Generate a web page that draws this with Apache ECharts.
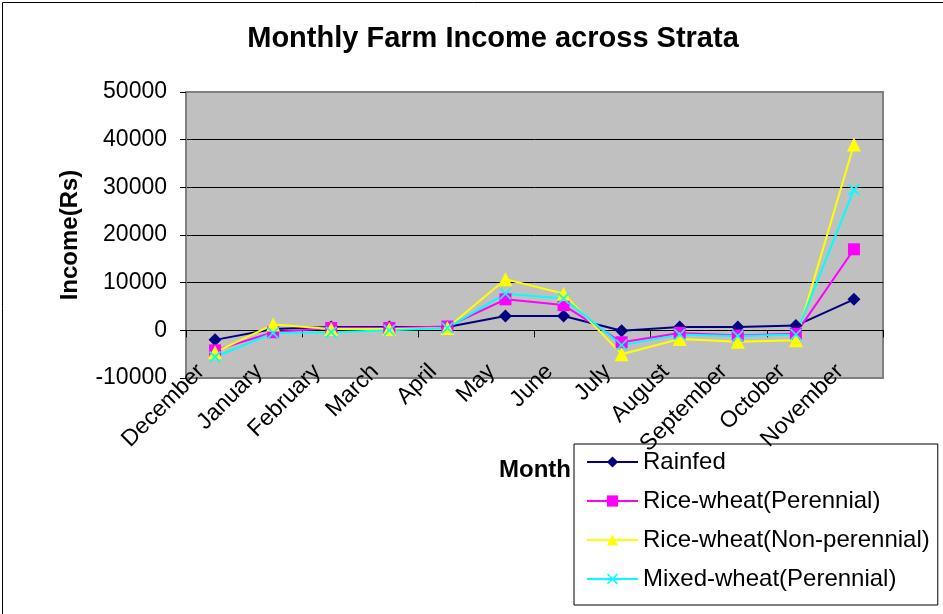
<!DOCTYPE html>
<html>
<head>
<meta charset="utf-8">
<script src="https://cdn.jsdelivr.net/npm/echarts@6/dist/echarts.min.js"></script>
<style>
html,body{margin:0;padding:0;background:#fff;}
#c{width:943px;height:614px;box-sizing:border-box;}
</style>
</head>
<body>
<div id="c"></div>
<script>
const months = ['December','January','February','March','April','May','June','July','August','September','October','November'];
const rainfed = [-2000, 300, 700, 700, 700, 3000, 3000, -100, 700, 700, 1000, 6500];
const riceWheatPerennial = [-4200, -400, 500, 500, 800, 6500, 5300, -2500, -550, -1100, -700, 17000];
const riceWheatNonPerennial = [-4600, 1200, 300, 300, 500, 10700, 7700, -5000, -1800, -2400, -2100, 39000];
const mixedWheatPerennial = [-5600, -550, -400, 0, 500, 7700, 6700, -3100, -900, -1200, -900, 29500];
const seriesNames = ['Rainfed','Rice-wheat(Perennial)','Rice-wheat(Non-perennial)','Mixed-wheat(Perennial)'];
const yTicks = [-10000, 0, 10000, 20000, 30000, 40000, 50000];

const FONT = '"Liberation Sans", Arial, sans-serif';
const xSym = 'path://M0,1 L1,0 L5,4 L9,0 L10,1 L6,5 L10,9 L9,10 L5,6 L1,10 L0,9 L4,5 Z';

const chart = echarts.init(document.getElementById('c'));
function mk(name, data, color, symbol, size) {
  return {
    name: name, type: 'line', data: data, xAxisIndex: 0,
    symbol: symbol, symbolSize: size, showSymbol: true,
    lineStyle: {color: color, width: 2},
    itemStyle: {color: color},
    emphasis: {disabled: true},
    animation: false
  };
}
chart.setOption({
  animation: false,
  textStyle: {fontFamily: FONT},
  title: {
    text: 'Monthly Farm Income across Strata',
    left: 488, top: 19, textAlign: 'center',
    textStyle: {fontFamily: FONT, fontSize: 29, fontWeight: 'bold', color: '#000'}
  },
  grid: {
    left: 186, right: 60, top: 92, bottom: 236,
    show: true, backgroundColor: '#c0c0c0', borderColor: '#808080', borderWidth: 2
  },
  legend: {
    orient: 'vertical', left: 574, top: 444,
    padding: [6, 8, 14, 12],
    backgroundColor: '#fff', borderColor: '#000', borderWidth: 1,
    itemWidth: 51, itemHeight: 14, itemGap: 15,
    textStyle: {fontFamily: FONT, fontSize: 24, color: '#000'},
    data: seriesNames
  },
  xAxis: [{
    type: 'category', data: months, position: 'bottom',
    axisLine: {show: false, onZero: false},
    axisTick: {show: false},
    axisLabel: {
      rotate: 45, color: '#000', fontFamily: FONT, fontSize: 23, margin: -24, interval: 0,
      formatter: function (v) { return '{t|' + v + '}'; },
      rich: {t: {fontFamily: FONT, fontSize: 23, color: '#000', padding: [0, 20, 0, 0]}}
    },
    splitLine: {show: false},
    z: 5
  }, {
    type: 'category', data: months, position: 'bottom',
    axisLine: {show: true, onZero: true, lineStyle: {color: '#000', width: 1}},
    axisTick: {show: true, length: 7, lineStyle: {color: '#000'}},
    axisLabel: {show: false},
    splitLine: {show: false}
  }],
  yAxis: {
    type: 'value', min: yTicks[0], max: yTicks[yTicks.length - 1], interval: 10000,
    name: 'Income(Rs)', nameLocation: 'middle', nameGap: 104, nameRotate: 90,
    nameTextStyle: {fontFamily: FONT, fontSize: 24, fontWeight: 'bold', color: '#000'},
    axisLine: {show: true, lineStyle: {color: '#808080', width: 2}},
    axisTick: {show: true, length: 6, lineStyle: {color: '#000'}},
    axisLabel: {fontSize: 23, color: '#000', fontFamily: FONT, margin: 19, formatter: function (v) { return String(v); }},
    splitLine: {show: true, lineStyle: {color: ['#808080', '#000', '#000', '#000', '#000', '#000', '#808080'], width: 1}}
  },
  graphic: [{
    type: 'text', left: 499, top: 458,
    style: {text: 'Month', font: 'bold 24px ' + FONT, fill: '#000'}
  }, {
    type: 'rect', left: 0, top: 0, z: -10, silent: true,
    shape: {x: 0.5, y: 0.5, width: 942, height: 613},
    style: {fill: 'none', stroke: '#000', lineWidth: 1}
  }],
  series: [
    mk(seriesNames[0], rainfed, '#000080', 'diamond', 13),
    mk(seriesNames[1], riceWheatPerennial, '#ff00ff', 'rect', 12),
    mk(seriesNames[2], riceWheatNonPerennial, '#ffff00', 'triangle', 14),
    mk(seriesNames[3], mixedWheatPerennial, '#00ffff', xSym, 12)
  ]
});
</script>
</body>
</html>
